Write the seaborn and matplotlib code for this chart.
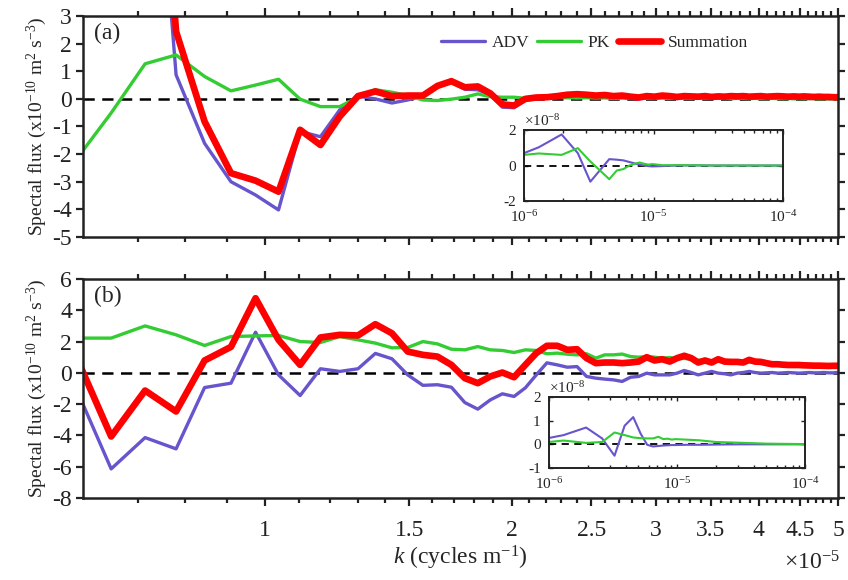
import numpy as np
import pandas as pd
import matplotlib
matplotlib.use("Agg")
import matplotlib.pyplot as plt
import matplotlib.ticker as mticker
import seaborn as sns

# wavenumber modes n = 9..77, dk = 1/(1540 km)
n_modes = np.arange(9, 78)
k = n_modes / 1.54e6

# panel (a), units 1e-10 m^2 s^-3
adv_a = [12, 16, 15, 0.87, -1.61, -3.0, -3.48, -4.02, -1.18, -1.37,
         -0.4, 0.1, 0.0, -0.15, -0.04, 0.1, 0.5, 0.6, 0.35, 0.33,
         0.15, -0.3, -0.32, -0.05, 0.0, 0.03, 0.05, 0.1, 0.1, 0.08,
         0.05, 0.05, 0.03, 0.05, 0.02, 0.0, 0.04, 0.02, 0.05, 0.03,
         0.01, 0.04, 0.02, 0.03, 0.05, 0.02, 0.03, 0.01, 0.03, 0.02,
         0.04, 0.02, 0.03, 0.02, 0.01, 0.03, 0.02, 0.02, 0.03, 0.01,
         0.02, 0.02, 0.01, 0.02, 0.02, 0.01, 0.01, 0.02, 0.01]
pk_a = [-2.32, -0.51, 1.27, 1.59, 0.81, 0.29, 0.5, 0.71, -0.01, -0.28,
        -0.28, 0.06, 0.33, 0.24, 0.12, -0.04, -0.06, -0.01, 0.06, 0.18,
        0.08, 0.06, 0.06, 0.02, 0.04, 0.03, 0.05, 0.04, 0.03, 0.04,
        0.03, 0.04, 0.02, 0.03, 0.03, 0.02, 0.03, 0.02, 0.03, 0.02,
        0.02, 0.03, 0.02, 0.02, 0.03, 0.02, 0.02, 0.02, 0.01, 0.02,
        0.02, 0.01, 0.02, 0.01, 0.01, 0.02, 0.01, 0.01, 0.01, 0.01,
        0.01, 0.01, 0.01, 0.01, 0.0, 0.01, 0.0, 0.0, 0.0]
sum_a = [14, 18, 17, 2.44, -0.82, -2.69, -2.96, -3.36, -1.12, -1.67,
         -0.64, 0.1, 0.27, 0.1, 0.12, 0.12, 0.47, 0.64, 0.42, 0.45,
         0.2, -0.2, -0.24, 0.0, 0.05, 0.06, 0.1, 0.15, 0.17, 0.15,
         0.12, 0.14, 0.1, 0.12, 0.08, 0.05, 0.1, 0.08, 0.12, 0.1,
         0.07, 0.1, 0.09, 0.08, 0.1, 0.07, 0.09, 0.08, 0.1, 0.09,
         0.1, 0.08, 0.09, 0.1, 0.08, 0.09, 0.1, 0.09, 0.08, 0.09,
         0.08, 0.09, 0.08, 0.07, 0.08, 0.07, 0.07, 0.06, 0.06]

# panel (b)
adv_b = [-0.64, -6.14, -4.14, -4.86, -0.94, -0.66, 2.6, -0.13, -1.45, 0.26,
         0.09, 0.26, 1.24, 0.9, -0.13, -0.8, -0.76, -0.92, -1.9, -2.32,
         -1.73, -1.34, -1.51, -0.96, -0.13, 0.64, 0.51, 0.36, 0.4, -0.23,
         -0.34, -0.4, -0.45, -0.55, -0.28, -0.23, -0.02, -0.13, -0.13, -0.13,
         -0.02, 0.15, 0.02, -0.13, -0.02, 0.09, -0.02, -0.06, -0.13, -0.02,
         0.02, 0.09, 0.02, -0.02, 0.0, 0.02, -0.02, 0.0, 0.02, 0.0,
         -0.02, 0.0, 0.02, 0.0, 0.0, 0.02, 0.0, 0.0, 0.02]
pk_b = [2.22, 2.22, 3.0, 2.43, 1.75, 2.32, 2.36, 2.39, 2.0, 1.94,
        2.32, 2.11, 1.9, 1.6, 1.62, 2.0, 1.85, 1.51, 1.47, 1.68,
        1.47, 1.43, 1.3, 1.47, 1.43, 1.22, 1.26, 1.19, 1.15, 1.22,
        0.94, 1.15, 1.15, 1.2, 1.04, 1.0, 1.04, 1.0, 0.94, 0.98,
        0.9, 0.92, 0.88, 0.8, 0.8, 0.62, 0.85, 0.75, 0.78, 0.7,
        0.62, 0.7, 0.68, 0.7, 0.6, 0.55, 0.55, 0.5, 0.5, 0.48,
        0.5, 0.45, 0.45, 0.45, 0.44, 0.44, 0.43, 0.42, 0.42]
sum_b = [1.4, -4.07, -1.13, -2.47, 0.79, 1.66, 4.77, 2.11, 0.51, 2.26,
         2.43, 2.39, 3.11, 2.53, 1.36, 1.15, 1.04, 0.51, -0.34, -0.66,
         -0.23, 0.02, -0.28, 0.51, 1.26, 1.73, 1.73, 1.47, 1.51, 0.94,
         0.62, 0.66, 0.66, 0.62, 0.66, 0.72, 1.0, 0.79, 0.87, 0.72,
         0.94, 1.09, 0.94, 0.66, 0.79, 0.66, 0.87, 0.72, 0.7, 0.7,
         0.66, 0.83, 0.72, 0.7, 0.62, 0.55, 0.55, 0.52, 0.5, 0.5,
         0.5, 0.48, 0.47, 0.46, 0.46, 0.45, 0.44, 0.45, 0.45]

# insets, full range, units 1e-8
k_in = np.array([1.0, 1.3, 1.95, 2.6, 3.25, 3.9, 4.55, 5.2, 5.85, 6.5, 7.15,
                 7.8, 8.45, 9.1, 9.75, 11.7, 15, 20, 30, 50, 70, 100]) * 1e-6
adv_in_a = [0.7, 1.03, 1.75, 0.7, -0.91, -0.22, 0.36, 0.33, 0.29, 0.2, 0.12,
            0.05, 0.0, -0.03, -0.05, -0.03, 0.0, 0.01, 0.0, 0.0, 0.0, 0.0]
pk_in_a = [0.6, 0.68, 0.6, 0.98, 0.23, -0.31, -0.77, -0.28, -0.2, 0.0, 0.1,
           0.17, 0.1, 0.05, 0.08, 0.02, 0.02, 0.01, 0.0, 0.0, 0.0, 0.0]
adv_in_b = [0.27, 0.39, 0.71, 0.25, -0.48, 0.79, 1.15, 0.45, -0.02, -0.09, -0.07,
            -0.05, -0.04, -0.03, -0.03, -0.02, -0.02, -0.01, 0.0, 0.0, 0.0, 0.0]
pk_in_b = [0.1, 0.16, 0.06, 0.1, 0.5, 0.39, 0.29, 0.26, 0.25, 0.25, 0.32,
           0.22, 0.24, 0.2, 0.22, 0.2, 0.17, 0.1, 0.07, 0.03, 0.02, 0.01]

c_adv = '#6655cc'
c_pk = '#33cc33'
c_sum = '#ff0000'

sns.set_style("ticks")
plt.rcParams['font.family'] = ['Liberation Serif', 'DejaVu Serif']
plt.rcParams['mathtext.fontset'] = 'custom'
plt.rcParams['mathtext.rm'] = 'Liberation Serif'
plt.rcParams['mathtext.it'] = 'Liberation Serif:italic'
plt.rcParams['axes.unicode_minus'] = False
plt.rcParams['axes.edgecolor'] = '#222222'
plt.rcParams['xtick.color'] = '#222222'
plt.rcParams['ytick.color'] = '#222222'

fig = plt.figure(figsize=(8.48, 5.8), dpi=100)
ax_a = fig.add_axes([0.0979, 0.5914, 0.8903, 0.381])
ax_b = fig.add_axes([0.0979, 0.1414, 0.8903, 0.3776])
in_a = fig.add_axes([0.618, 0.6534, 0.3054, 0.1224])
in_b = fig.add_axes([0.6474, 0.1931, 0.3019, 0.1224])

dash = (0, (4.5, 3))


def main_panel(ax, adv, pk, tot, ylim, yticks, tag):
    df = pd.DataFrame({'k': k, 'ADV': adv, 'PK': pk, 'Summation': tot})
    ax.axhline(0, color='k', lw=1.8, ls=dash, zorder=1)
    sns.lineplot(data=df, x='k', y='ADV', ax=ax, color=c_adv, lw=2.4, label='ADV')
    sns.lineplot(data=df, x='k', y='PK', ax=ax, color=c_pk, lw=2.4, label='PK')
    sns.lineplot(data=df, x='k', y='Summation', ax=ax, color=c_sum, lw=4.8, label='Summation')
    ax.set_xscale('log')
    ax.set_xlim(0.6e-5, 5e-5)
    ax.set_ylim(*ylim)
    ax.set_yticks(yticks)
    ax.xaxis.set_major_locator(mticker.FixedLocator(np.arange(1, 5.01, 0.5) * 1e-5))
    minors = [v for v in np.round(np.arange(0.7, 5.0, 0.1), 1) if (v * 10) % 5 != 0]
    ax.xaxis.set_minor_locator(mticker.FixedLocator(np.array(minors) * 1e-5))
    ax.xaxis.set_major_formatter(mticker.FuncFormatter(lambda v, p: f"{v / 1e-5:g}"))
    ax.xaxis.set_minor_formatter(mticker.NullFormatter())
    ax.tick_params(which='both', direction='out', top=True, right=True, width=1.6, labelsize=17)
    ax.tick_params(axis='x', which='major', length=6, pad=10)
    ax.tick_params(axis='x', which='minor', length=3.5)
    ax.tick_params(axis='y', length=5, pad=3)
    for s in ax.spines.values():
        s.set_linewidth(1.8)
    ax.set_xlabel('')
    ax.set_ylabel(r'Spectal flux (x10$^{-10}$ m$^{2}$ s$^{-3}$)', fontsize=14, labelpad=2)
    ax.text(0.015, 0.97, tag, transform=ax.transAxes, fontsize=17, va='top', ha='left')
    if ax.get_legend() is not None:
        ax.get_legend().remove()


def inset(ax, adv, pk, ylim, yticks):
    df = pd.DataFrame({'k': k_in, 'ADV': adv, 'PK': pk})
    ax.axhline(0, color='k', lw=1.3, ls=(0, (4, 3)), zorder=1)
    sns.lineplot(data=df, x='k', y='ADV', ax=ax, color=c_adv, lw=1.5)
    sns.lineplot(data=df, x='k', y='PK', ax=ax, color=c_pk, lw=1.5)
    ax.set_xscale('log')
    ax.set_xlim(1e-6, 1e-4)
    ax.set_ylim(*ylim)
    ax.set_yticks(yticks)
    ax.set_xticks([1e-6, 1e-5, 1e-4])
    ax.tick_params(which='both', direction='in', top=True, right=True, width=1.0, labelsize=11)
    ax.tick_params(which='major', length=3, pad=6)
    ax.tick_params(which='minor', length=2)
    for s in ax.spines.values():
        s.set_linewidth(1.4)
    ax.set_xlabel('')
    ax.set_ylabel('')
    ax.text(0.0, 1.01, r'$\times$10$^{-8}$', transform=ax.transAxes, fontsize=11, va='bottom', ha='left')


main_panel(ax_a, adv_a, pk_a, sum_a, (-5, 3), range(-5, 4), '(a)')
main_panel(ax_b, adv_b, pk_b, sum_b, (-8, 6), range(-8, 7, 2), '(b)')
ax_a.tick_params(axis='x', labelbottom=False)
ax_b.set_xlabel(r'$k$ (cycles m$^{-1}$)', fontsize=17, labelpad=2)

h, l = ax_a.get_legend_handles_labels()
ax_a.legend(h, l, loc='center', bbox_to_anchor=(0.678, 0.878), ncol=3, frameon=False,
            fontsize=12.5, handlelength=2.5, columnspacing=0.45, handletextpad=0.4)

inset(in_a, adv_in_a, pk_in_a, (-2, 2), [-2, 0, 2])
inset(in_b, adv_in_b, pk_in_b, (-1, 2), [-1, 0, 1, 2])

fig.text(0.99, 0.029, r'$\times$10$^{-5}$', fontsize=17, ha='right', va='center')

fig.savefig('out.png', dpi=100)
